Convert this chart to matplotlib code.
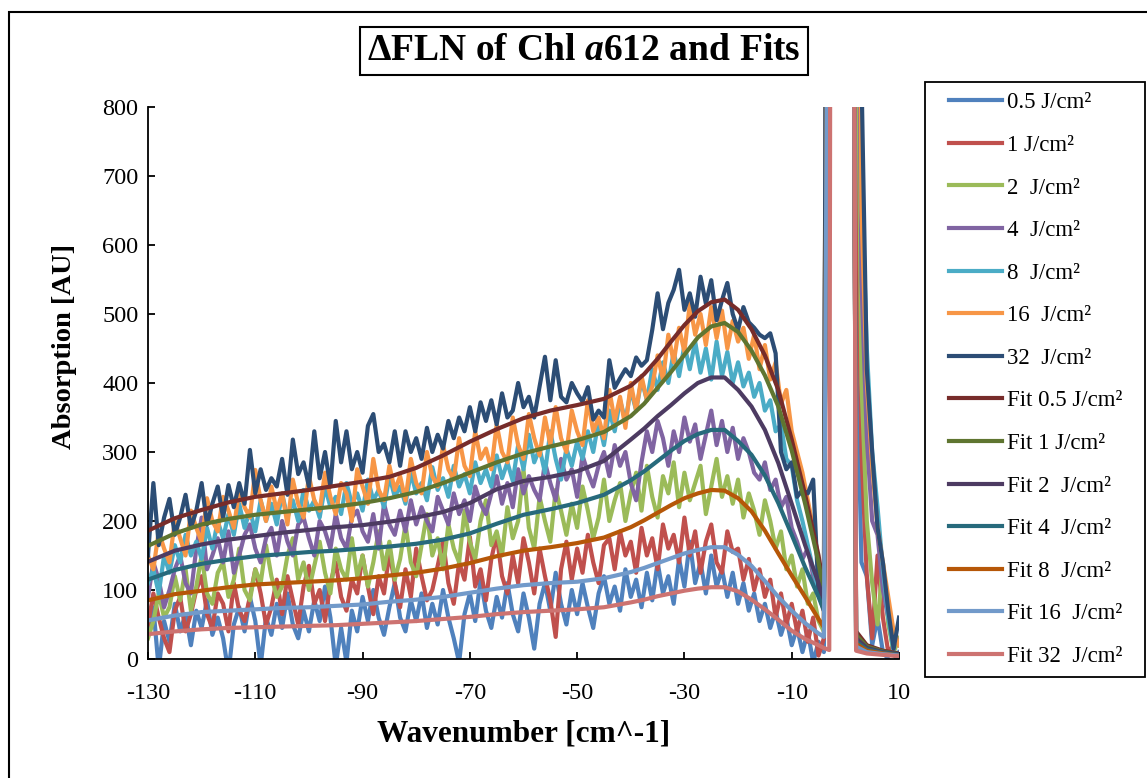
import numpy as np
import matplotlib
matplotlib.use("Agg")
import matplotlib.pyplot as plt
from matplotlib.patches import Rectangle
from matplotlib.legend_handler import HandlerLine2D

plt.rcParams['font.family'] = ['Liberation Serif', 'DejaVu Serif']
plt.rcParams['axes.unicode_minus'] = False
plt.rcParams['mathtext.fontset'] = 'custom'
plt.rcParams['mathtext.rm'] = 'Liberation Serif:bold'
plt.rcParams['mathtext.it'] = 'Liberation Serif:italic:bold'
plt.rcParams['mathtext.bf'] = 'Liberation Serif:bold'

# wavenumber grid of the measured spectra, -130 .. 10 cm^-1
wn = np.arange(-130, 11)

s05 = [40, 75, -15, 55, 25, 80, 40, 65, 20, 70,
       45, 85, 35, 60, 30, -20, 50, 75, 40, 90,
       55, -10, 60, 35, 80, 45, 95, 50, 30, 70,
       40, 85, 55, 105, 60, -10, 45, -5, 70, 40,
       90, 55, 100, 60, 35, 75, 110, 60, 40, 85,
       55, 95, 45, 80, 50, 100, 60, 30, -5, 65,
       95, 55, 115, 70, 45, 90, 60, 110, 65, 40,
       95, 60, 15, 80, 110, 70, 125, 80, 50, 100,
       65, 110, 75, 45, 95, 120, 80, 105, 70, 130,
       90, 115, 75, 125, 85, 140, 95, 120, 80, 145,
       105, 170, 110, 140, 95, 150, 105, 130, 90, 125,
       80, 110, 70, 95, 55, 80, 45, 70, 35, 60,
       20, 45, 10, 40, -5, 25, 10, 2500, 6000, 9000,
       10000, 5000, 500, 140, 120, 20, 60, 10, 0, -10,
       10]
s1 = [50, 95, 60, 30, 10, 70, 90, 40, 65, 100,
      120, 65, 45, 95, 80, 40, 110, 70, 55, 90,
      130, 95, 50, 75, 115, 65, 120, 85, 50, 105,
      135, 80, 100, 55, 110, 140, 90, 70, 115, 95,
      150, 105, 65, 120, 95, 155, 110, 75, 130, 90,
      160, 120, 85, 100, 135, 172, 110, 80, 140, 115,
      177, 105, 130, 85, 145, 180, 120, 95, 150, 110,
      175, 140, 95, 160, 120, 85, 32, 130, 170, 115,
      160, 125, 180, 140, 110, 165, 175, 130, 185, 150,
      170, 125, 190, 150, 175, 130, 195, 160, 180, 140,
      205, 150, 185, 125, 170, 195, 140, 125, 185, 155,
      160, 115, 145, 100, 130, 90, 115, 60, 95, 50,
      80, 40, 70, 25, 60, 5, 30, 2500, 6000, 9000,
      10000, 6000, 800, 300, 120, 30, 150, 60, 10, 20,
      30]
s2 = [30, 55, 95, 60, 75, 120, 85, 130, 70, 105,
      150, 95, 80, 125, 140, 90, 115, 160, 100, 85,
      130, 110, 165, 120, 90, 105, 150, 175, 115, 140,
      100, 135, 170, 125, 95, 160, 130, 115, 175, 120,
      150, 105, 140, 185, 130, 170, 115, 145, 195, 140,
      120, 165, 210, 150, 175, 130, 195, 160, 140, 215,
      170, 145, 200, 230, 165, 185, 150, 220, 175, 200,
      275, 190, 160, 235, 200, 170, 245, 215, 180, 225,
      190, 250, 215, 175, 205, 260, 200, 230, 255, 200,
      240, 270, 215, 280, 235, 205, 265, 240, 285, 220,
      270, 230, 255, 280, 210, 250, 290, 235, 265, 225,
      260, 205, 240, 215, 180, 230, 200, 160, 185, 130,
      150, 105, 130, 80, 95, 55, 40, 2500, 6000, 9000,
      10000, 6000, 1200, 400, 200, 110, 50, 140, 50, 10,
      30]
s4 = [90, 140, 115, 75, 100, 130, 150, 110, 95, 160,
      205, 130, 150, 175, 140, 185, 125, 150, 180, 195,
      160, 140, 175, 190, 150, 200, 170, 150, 195, 205,
      175, 150, 200, 185, 160, 210, 175, 160, 205, 215,
      185, 170, 210, 160, 225, 195, 180, 215, 185, 230,
      195, 220, 200, 185, 235, 215, 195, 240, 210, 230,
      200, 250, 225, 210, 240, 265, 225, 255, 220, 275,
      240, 265, 245, 230, 285, 255, 230, 290, 260, 275,
      235, 295, 270, 250, 280, 300, 265, 310, 280, 300,
      255, 230, 285, 330, 300, 345, 320, 280, 330, 300,
      350, 315, 340, 290, 325, 360, 310, 345, 300, 335,
      290, 320, 300, 270, 260, 285, 245, 260, 220, 235,
      190, 170, 145, 160, 120, 95, 70, 2500, 6000, 9000,
      10000, 6000, 1500, 550, 320, 200, 180, 100, 60, 40,
      20]
s8 = [110, 130, 95, 150, 125, 165, 140, 180, 150, 170,
      145, 190, 160, 200, 175, 210, 180, 225, 190, 215,
      185, 230, 200, 225, 195, 240, 205, 230, 200, 245,
      215, 230, 205, 250, 220, 235, 210, 255, 225, 240,
      215, 260, 230, 245, 220, 265, 235, 250, 225, 270,
      240, 255, 230, 278, 245, 262, 235, 280, 250, 268,
      240, 285, 255, 275, 250, 295, 262, 285, 258, 310,
      275, 325, 285, 305, 270, 330, 290, 260, 305, 280,
      315, 290, 330, 300, 345, 310, 360, 330, 375, 345,
      390, 360, 405, 375, 420, 390, 430, 400, 445, 410,
      455, 420, 460, 415, 450, 405, 460, 410, 445, 400,
      430, 395, 415, 380, 400, 360, 375, 330, 340, 290,
      280, 230, 200, 165, 130, 100, 80, 2500, 6000, 9000,
      10000, 6000, 1800, 700, 450, 300, 220, 130, 60, 10,
      -10]
s16 = [150, 130, 185, 160, 140, 200, 175, 150, 215, 190,
       170, 233, 200, 185, 235, 215, 190, 245, 220, 205,
       274, 230, 200, 250, 215, 240, 195, 260, 225, 205,
       265, 230, 215, 270, 235, 210, 255, 240, 200, 275,
       250, 225, 290, 245, 230, 280, 245, 265, 230, 290,
       255, 240, 300, 265, 250, 310, 275, 260, 320, 280,
       265, 330, 290, 305, 275, 340, 300, 285, 350, 310,
       290, 355, 320, 295, 350, 310, 365, 320, 300, 360,
       330, 310, 375, 330, 350, 320, 390, 345, 380, 335,
       400, 360, 410, 375, 395, 440, 405, 470, 430, 480,
       445, 515, 470, 500, 455, 510, 465, 505, 450, 490,
       460, 480, 435, 470, 420, 455, 405, 430, 370, 390,
       330, 300, 270, 230, 190, 140, 100, 2500, 6000, 9000,
       10000, 6000, 1800, 650, 400, 280, 190, 140, 90, 40,
       20]
s32 = [150, 255, 165, 205, 232, 180, 205, 238, 190, 215,
       255, 195, 225, 250, 205, 252, 220, 255, 225, 303,
       240, 275, 245, 262, 250, 290, 238, 318, 268, 285,
       250, 330, 262, 300, 250, 345, 285, 330, 275, 300,
       270, 338, 355, 300, 312, 285, 330, 280, 330, 300,
       320, 290, 335, 300, 325, 305, 345, 320, 350, 330,
       365, 330, 372, 345, 375, 340, 385, 350, 360, 400,
       365, 380, 350, 395, 438, 375, 433, 380, 372, 400,
       385, 373, 394, 347, 360, 350, 433, 393, 407, 420,
       410, 437, 425, 433, 477, 530, 478, 516, 535, 564,
       506, 530, 496, 554, 515, 549, 491, 520, 545, 500,
       477, 510, 488, 480, 470, 465, 472, 443, 300, 275,
       285, 235, 245, 240, 260, 95, 110, 2500, 6000, 9000,
       10000, 6000, 2000, 850, 420, 300, 190, 140, 70, 15,
       60]

# fitted curves
wn_fit = [-130, -125, -120, -115, -110, -105, -100, -95, -90, -85,
          -80, -75, -70, -65, -60, -55, -50, -45, -40, -37.5,
          -35, -32.5, -30, -27.5, -25, -22.5, -20, -17.5, -15, -12.5,
          -10, -7.5, -5, -4, -3, -2.5, 1, 2, 4, 7, 10]
f05 = [186, 204, 216, 227, 235, 240, 245, 251, 257, 264,
       277, 295, 315, 333, 349, 360, 368, 377, 396, 413,
       435, 460, 484, 504, 517, 521, 506, 478, 440, 390,
       318, 238, 150, 100, 1500, 2500, 2500, 40, 20, 12, 8]
f1 = [164, 182, 195, 203, 209, 213, 217, 221, 226, 233,
      242, 255, 270, 285, 298, 308, 317, 329, 352, 370,
      393, 416, 441, 466, 482, 487, 474, 447, 411, 366,
      302, 225, 140, 95, 1500, 2500, 2500, 35, 18, 11, 7]
f2 = [141, 157, 166, 173, 178, 183, 187, 191, 194, 199,
      205, 213, 226, 246, 258, 264, 272, 287, 318, 334,
      352, 368, 385, 400, 408, 408, 390, 366, 332, 284,
      225, 165, 110, 82, 1500, 2500, 2500, 30, 16, 10, 7]
f4 = [115, 129, 138, 144, 149, 152, 155, 157, 160, 163,
      167, 173, 182, 196, 209, 217, 226, 238, 259, 272,
      287, 302, 316, 326, 332, 332, 316, 296, 266, 226,
      180, 133, 90, 70, 1500, 2500, 2500, 25, 14, 9, 6]
f8 = [85, 94, 99, 104, 108, 110, 112, 114, 117, 121,
      125, 131, 139, 149, 157, 162, 168, 176, 191, 201,
      212, 223, 233, 240, 245, 244, 233, 214, 186, 153,
      121, 90, 58, 46, 1500, 2500, 2500, 22, 12, 8, 5]
f16 = [56, 63, 68, 70, 72, 74, 75, 77, 79, 83,
       86, 90, 96, 102, 107, 110, 112, 117, 126, 132,
       139, 146, 153, 158, 162, 162, 151, 135, 113, 90,
       70, 52, 37, 32, 1500, 2500, 2500, 18, 10, 7, 5]
f32 = [36, 40, 43, 45, 46, 47, 48, 49, 51, 53,
       55, 58, 61, 65, 68, 70, 72, 75, 82, 86,
       91, 95, 99, 102, 104, 104, 98, 86, 72, 57,
       41, 29, 20, 16, 13, 2500, 2500, 12, 8, 6, 4]

data_labels = ['0.5 J/cm²', '1 J/cm²', '2  J/cm²', '4  J/cm²',
               '8  J/cm²', '16  J/cm²', '32  J/cm²']
fit_labels = ['Fit 0.5 J/cm²', 'Fit 1 J/cm²', 'Fit 2  J/cm²', 'Fit 4  J/cm²',
              'Fit 8  J/cm²', 'Fit 16  J/cm²', 'Fit 32  J/cm²']
data_colors = ['#4F81BD', '#C0504D', '#9BBB59', '#8064A2',
               '#4BACC6', '#F79646', '#2C4D75']
fit_colors = ['#772C2A', '#5F7530', '#4D3B62', '#276A7C',
              '#B65708', '#729ACA', '#CD7371']

W, H = 1147, 778

def fx(px):
    return px / W

def fy(py):
    return 1 - py / H

def main():
    fig = plt.figure(figsize=(W / 100, H / 100), dpi=100)
    # chart area border (only top and left visible in the original)
    fig.patches.append(Rectangle((fx(9), -0.1), 1.2, fy(12) + 0.1,
                                 transform=fig.transFigure, fill=False,
                                 ec='black', lw=1.5))
    ax = fig.add_axes([fx(148), fy(659), fx(899) - fx(148), fy(107) - fy(659)])

    series = [s05, s1, s2, s4, s8, s16, s32]
    for s, c, lab in zip(series, data_colors, data_labels):
        ax.plot(wn, s, color=c, lw=3.0, label=lab, solid_joinstyle='round')
    fits = [f05, f1, f2, f4, f8, f16, f32]
    for f, c, lab in zip(fits, fit_colors, fit_labels):
        ax.plot(wn_fit, f, color=c, lw=3.0, label=lab, solid_joinstyle='round')

    ax.set_xlim(-130, 10)
    ax.set_ylim(0, 800)
    ax.set_xticks(np.arange(-130, 11, 20))
    ax.set_yticks(np.arange(0, 801, 100))
    for side in ['top', 'right']:
        ax.spines[side].set_visible(False)
    for side in ['left', 'bottom']:
        ax.spines[side].set_linewidth(1.3)
    ax.tick_params(direction='in', length=5, width=1.3, labelsize=17.5)
    ax.tick_params(axis='x', pad=17)
    ax.tick_params(axis='y', pad=7)

    ax.set_xlabel('Wavenumber [cm^-1]', fontsize=22.5, fontweight='bold')
    ax.set_ylabel('Absorption [AU]', fontsize=20.5, fontweight='bold')
    ax.xaxis.set_label_coords(0.5, (659 - 719) / 552)
    ax.yaxis.set_label_coords((77 - 148) / 751, (659 - 346) / 552)

    fig.text(fx(584), fy(51),
             r'$\Delta\mathrm{FLN\ of\ Chl\ }\mathit{a}\mathrm{612\ and\ Fits}$',
             fontsize=27, ha='center', va='center',
             bbox=dict(boxstyle='square,pad=0.18', fc='white', ec='black', lw=1.5))

    fs = 16.5
    leg = fig.legend(loc='upper left',
                     bbox_to_anchor=(fx(925), fy(674), fx(1145) - fx(925), fy(82) - fy(674)),
                     mode='expand', borderaxespad=0, fontsize=fs,
                     handlelength=2.9, handletextpad=0.25, labelspacing=0.94,
                     borderpad=0.45, fancybox=False, framealpha=1,
                     handler_map={matplotlib.lines.Line2D: HandlerLine2D(xpad=0.6)})
    leg.get_frame().set_edgecolor('black')
    leg.get_frame().set_linewidth(1.3)

    fig.savefig('out.png', dpi=100)

if __name__ == "__main__":
    main()
